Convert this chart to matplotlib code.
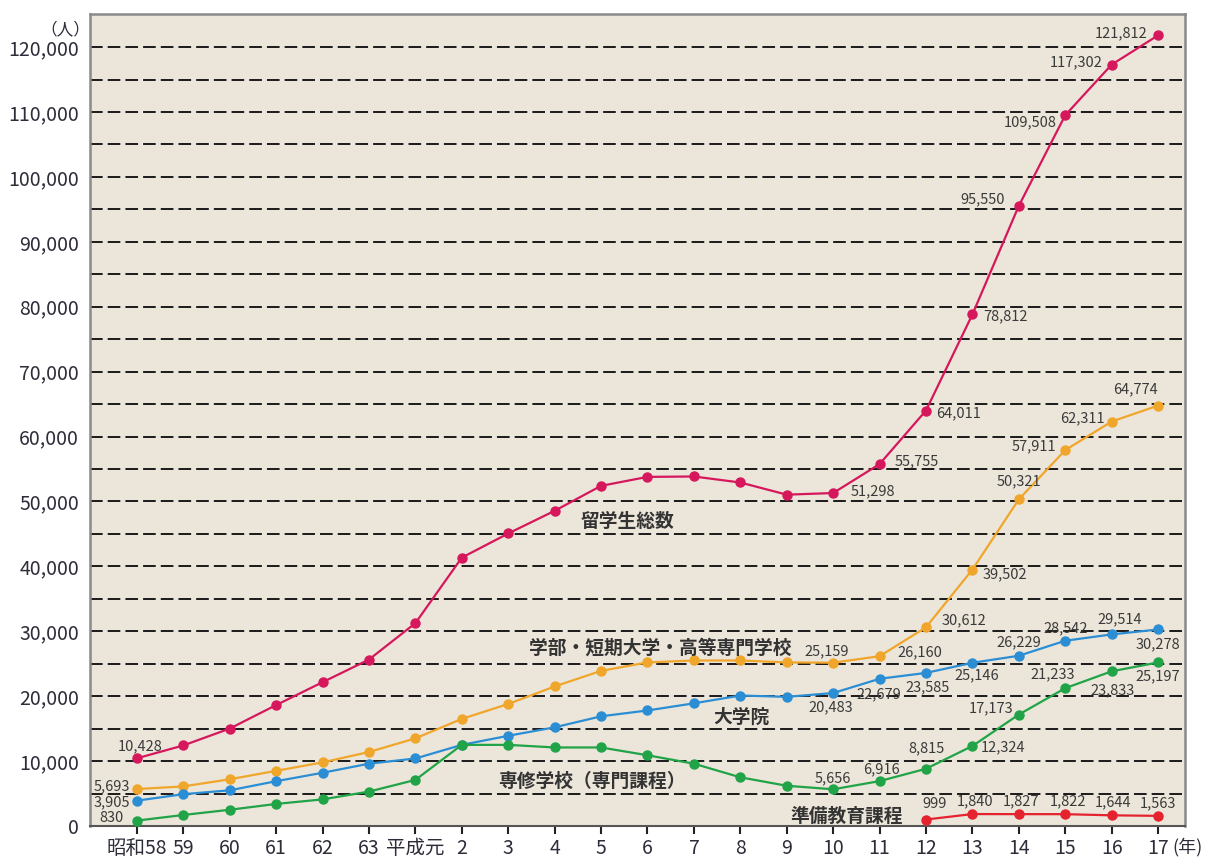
import numpy as np
import matplotlib
matplotlib.use("Agg")
import matplotlib.pyplot as plt
from matplotlib.ticker import FuncFormatter, MultipleLocator

plt.rcParams['font.family'] = ['Noto Sans CJK JP', 'DejaVu Sans']

# ---------------- data ----------------
years = ['昭和58', '59', '60', '61', '62', '63', '平成元', '2', '3', '4', '5', '6',
         '7', '8', '9', '10', '11', '12', '13', '14', '15', '16', '17']

total = [10428, 12410, 15009, 18631, 22154, 25643, 31251, 41347, 45066, 48561, 52405,
         53787, 53847, 52921, 51047, 51298, 55755, 64011, 78812, 95550, 109508, 117302, 121812]
undergrad = [5693, 6100, 7200, 8500, 9800, 11400, 13500, 16500, 18800, 21500, 23900,
             25200, 25500, 25500, 25200, 25159, 26160, 30612, 39502, 50321, 57911, 62311, 64774]
graduate = [3905, 4900, 5500, 6900, 8200, 9600, 10400, 12500, 13900, 15200, 16900,
            17800, 18900, 20100, 19900, 20483, 22679, 23585, 25146, 26229, 28542, 29514, 30278]
senmon = [830, 1700, 2500, 3400, 4100, 5300, 7100, 12500, 12500, 12100, 12100,
          10900, 9600, 7500, 6200, 5656, 6916, 8815, 12324, 17173, 21233, 23833, 25197]
prep = [np.nan] * 17 + [999, 1840, 1827, 1822, 1644, 1563]

series_names = ['留学生総数', '学部・短期大学・高等専門学校', '大学院', '専修学校（専門課程）', '準備教育課程']

# ---------------- styles ----------------
colors = ['#D6175C', '#F0A62A', '#2B8ED4', '#21A347', '#E5232E']
# label offsets (pixels) relative to the point, per series
off_total = {0: (3, 12), 15: (40, 2), 16: (37, 3), 17: (33, -3), 18: (33, -2),
             19: (-36, 7), 20: (-35, -7), 21: (-35, 2), 22: (-37, 2)}
off_under = {0: (-25, 3), 15: (-6, 11), 16: (40, 4), 17: (38, 7), 18: (33, -5),
             19: (0, 18), 20: (-31, 4), 21: (-29, 3), 22: (-23, 16)}
off_grad = {0: (-25, -2), 15: (-2, -14), 16: (-1, -16), 17: (2, -14), 18: (4, -13),
            19: (0, 13), 20: (0, 12), 21: (8, 15), 22: (0, -15)}
off_sen = {0: (-25, 3), 15: (0, 11), 16: (2, 12), 17: (1, 20), 18: (31, -1),
           19: (-28, 6), 20: (-13, 14), 21: (1, -19), 22: (0, -14)}
off_prep = {17: (9, 16), 18: (3, 13), 19: (2, 13), 20: (3, 13), 21: (1, 13), 22: (0, 13)}

W, H = 1212, 859
fig = plt.figure(figsize=(W / 100, H / 100), dpi=100)
fig.patch.set_facecolor('white')
ax = fig.add_axes([90 / W, 33 / H, (1185 - 90) / W, (826 - 14) / H])
ax.set_facecolor('#ECE6DA')

x = np.arange(len(years))
ax.set_xlim(-1.01, 22.58)
ax.set_ylim(0, 125100)

# grid lines
for v in range(5000, 120001, 5000):
    ax.axhline(v, color='#1a1a1a', lw=1.4, dashes=(6.5, 2.6), zorder=1)

all_series = [total, undergrad, graduate, senmon, prep]
offsets = [off_total, off_under, off_grad, off_sen, off_prep]
for vals, col, offs in zip(all_series, colors, offsets):
    ax.plot(x, vals, color=col, lw=1.6, marker='o', ms=6.5, mec=col, mfc=col, zorder=3)
    for i, (dx, dy) in offs.items():
        ax.annotate(f'{vals[i]:,}', (x[i], vals[i]), xytext=(dx, dy),
                    textcoords='offset pixels', ha='center', va='center',
                    fontsize=10.5, color='#3a3a3a', zorder=4)

# series names
name_pos = [(10.56, 46840), (11.27, 27430), (13.02, 16800), (9.81, 6930), (15.3, 1540)]
for name, (px, py) in zip(series_names, name_pos):
    ax.text(px, py, name, ha='center', va='center', fontsize=13.5,
            fontweight='bold', color='#333333', zorder=4)

# axes formatting
ax.yaxis.set_major_locator(MultipleLocator(10000))
ax.yaxis.set_major_formatter(FuncFormatter(lambda v, p: f'{int(v):,}'))
ax.tick_params(axis='y', length=0, pad=8, labelsize=14, labelcolor='#2d2d3a')
ax.set_xticks(x)
ax.set_xticklabels(years)
ax.tick_params(axis='x', length=6, width=1.5, color='#222222', pad=3,
               labelsize=14, labelcolor='#2d2d3a')
for s in ['top', 'left', 'right']:
    ax.spines[s].set_color('#8a8a8a')
    ax.spines[s].set_linewidth(1.8)
ax.spines['bottom'].set_color('#555555')
ax.spines['bottom'].set_linewidth(1.5)

fig.text(65 / W, 1 - 30 / H, '（人）', ha='center', va='center', fontsize=12, color='#2d2d3a')
fig.text(1172 / W, 1 - 847 / H, '(年)', ha='left', va='center', fontsize=13, color='#2d2d3a')

fig.savefig('out.png', dpi=100, facecolor='white')
